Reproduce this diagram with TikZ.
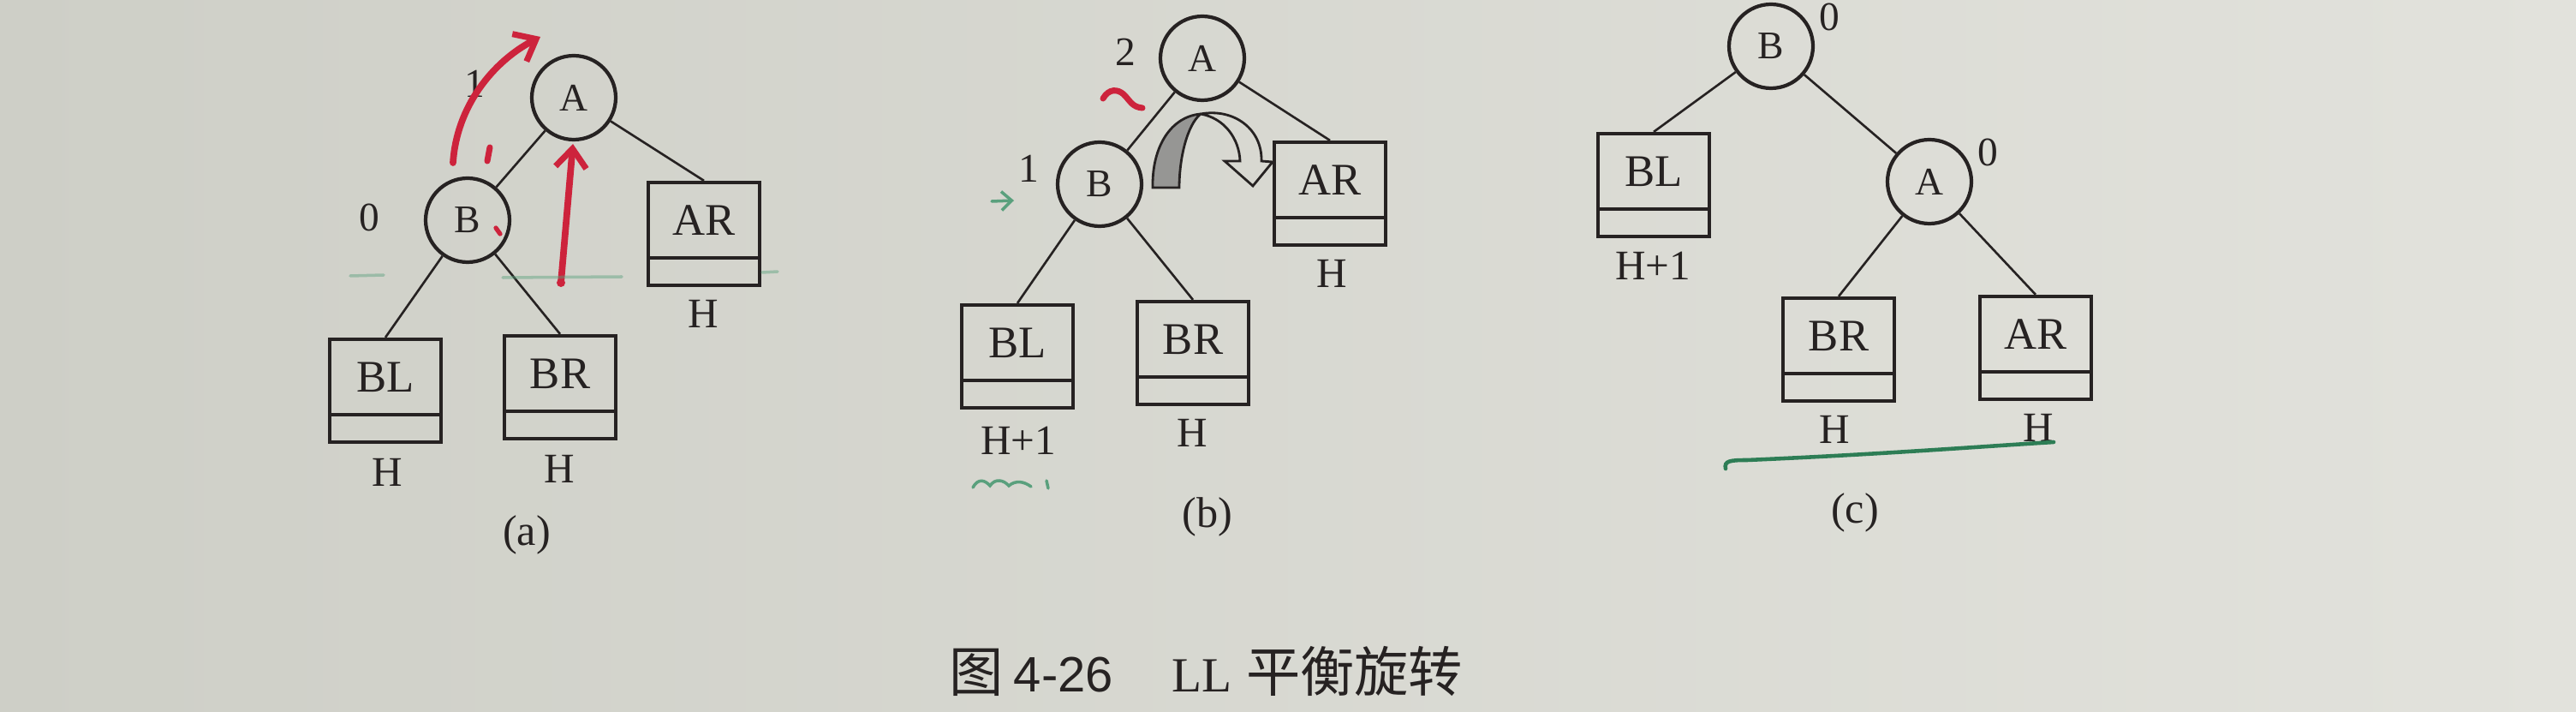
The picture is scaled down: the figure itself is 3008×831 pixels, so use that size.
\documentclass[tikz,border=0pt]{standalone}
\usepackage{fontspec}
\setmainfont{Liberation Serif}
\newfontfamily\cjkfont{Noto Sans CJK SC}
\newfontfamily\arialfont{Liberation Sans}
\usetikzlibrary{arrows.meta,calc}
\definecolor{ink}{RGB}{38,34,34}
\definecolor{paperL}{RGB}{206,207,199}
\definecolor{paperR}{RGB}{226,226,220}
\definecolor{redpen}{RGB}{205,35,60}
\definecolor{greenpen}{RGB}{45,125,85}
\definecolor{greenlight}{RGB}{90,160,125}
\definecolor{shadegray}{RGB}{150,150,148}
\begin{document}
\begin{tikzpicture}[x=0.1mm,y=-0.1mm,
  every node/.style={text=ink},
  vtx/.style={circle, draw=ink, line width=1.2pt, minimum size=9.8mm, inner sep=0pt, font=\fontsize{13pt}{15pt}\selectfont},
  subtree/.style={rectangle, draw=ink, line width=1.2pt, minimum width=13mm, minimum height=12mm, inner sep=0pt,
    text height=3.5mm, text depth=3.2mm, font=\fontsize{15pt}{18pt}\selectfont,
    path picture={\draw[ink, line width=1.2pt] ([yshift=3.2mm]path picture bounding box.south west) -- ([yshift=3.2mm]path picture bounding box.south east);}},
  hlabel/.style={inner sep=0pt, font=\fontsize{14pt}{16pt}\selectfont},
  bal/.style={inner sep=0pt, font=\fontsize{13.5pt}{16pt}\selectfont},
  panel/.style={inner sep=0pt, font=\fontsize{14.3pt}{17pt}\selectfont},
  edge/.style={draw=ink, line width=0.75pt},
  redarrow/.style={draw=redpen, line width=2.2pt, line cap=round, -{Straight Barb[length=2.2mm,width=3.6mm,line width=2pt]}},
  redmark/.style={draw=redpen, line width=2pt, line cap=round},
  greenmark/.style={draw=greenlight, line width=1pt, line cap=round},
]
% paper
\shade[left color=paperL, right color=paperR] (0,0) rectangle (3008,831);
\useasboundingbox (0,0) rectangle (3008,831);

% ---------------- (a) ----------------
\node[vtx] (aA) at (670,114) {A};
\node[vtx] (aB) at (546,257) {B};
\node[subtree] (aAR) at (822,273) {AR};
\node[subtree] (aBL) at (450,456) {BL};
\node[subtree] (aBR) at (654,452) {BR};
\draw[edge] (aA) -- (aB);
\draw[edge] (aA) -- (aAR.north);
\draw[edge] (aB) -- (aBL.north);
\draw[edge] (aB) -- (aBR.north);
\node[hlabel] (aH1) at (821,366) {H};
\node[hlabel] (aH2) at (452,551) {H};
\node[hlabel] (aH3) at (653,547) {H};
\node[bal] (aone) at (554,98) {1};
\node[bal] (azero) at (431,254) {0};
\node[panel] (acap) at (615,624) {(a)};

% handwritten marks on (a)
\coordinate (rc1) at (529,190);
\coordinate (rc2) at (631,43);
\draw[redarrow] (rc1) .. controls (533,125) and (575,72) .. (rc2);
\coordinate (rv1) at (655,330);
\coordinate (rv2) at (669,168);
\fill[redpen] (rv1) circle (5);
\draw[redarrow] (rv1) -- (rv2);
\draw[redmark] (572,172) -- (569,188);
\draw[redmark, line width=1.5pt] (579,266) -- (584,273);
\draw[greenmark, opacity=0.45] (587,324) -- (726,323);
\draw[greenmark, opacity=0.45] (890,318) -- (908,317);
\draw[greenmark, opacity=0.45] (409,322) -- (448,321);

% ---------------- (b) ----------------
\node[vtx] (bA) at (1404,68) {A};
\node[vtx] (bB) at (1284,215) {B};
\node[subtree] (bAR) at (1553,226) {AR};
\node[subtree] (bBL) at (1188,416) {BL};
\node[subtree] (bBR) at (1393,412) {BR};
\draw[edge] (bA) -- (bB);
\draw[edge] (bA) -- (bAR.north);
\draw[edge] (bB) -- (bBL.north);
\draw[edge] (bB) -- (bBR.north);
\node[hlabel] (bH1) at (1555,319) {H};
\node[hlabel] (bH2) at (1189,514) {H+1};
\node[hlabel] (bH3) at (1392,505) {H};
\node[bal] (btwo) at (1314,61) {2};
\node[bal] (bone) at (1201,197) {1};
\node[panel] (bcap) at (1410,603) {(b)};

% rotation arrow
\fill[shadegray] (1346,219) .. controls (1345,170) and (1368,136) .. (1402,133)
   .. controls (1386,146) and (1377,185) .. (1377,219) -- cycle;
\draw[ink, line width=0.8pt, line join=miter]
   (1346,219) .. controls (1345,170) and (1368,136) .. (1402,133)
   .. controls (1440,126) and (1474,150) .. (1473,188)
   -- (1486,189) -- (1463,217) -- (1430,188) -- (1448,188)
   .. controls (1447,162) and (1430,138) .. (1402,133)
   .. controls (1386,146) and (1377,185) .. (1377,219) -- cycle;

% handwritten marks on (b)
\draw[redmark] (1288,115) .. controls (1295,103) and (1305,104) .. (1312,110)
   .. controls (1320,118) and (1322,125) .. (1334,126);
\coordinate (ga1) at (1158,235);
\coordinate (ga2) at (1184,234);
\draw[greenmark, -{Straight Barb[length=1.2mm,width=2.2mm]}] (ga1) -- (ga2);
\draw[greenmark] (1136,569) .. controls (1142,558) and (1150,560) .. (1156,567)
   .. controls (1162,558) and (1172,560) .. (1178,567)
   .. controls (1186,560) and (1196,562) .. (1204,568);
\draw[greenmark] (1222,561) -- (1224,570);

% ---------------- (c) ----------------
\node[vtx] (cB) at (2068,54) {B};
\node[vtx] (cA) at (2253,212) {A};
\node[subtree] (cBL) at (1931,216) {BL};
\node[subtree] (cBR) at (2147,408) {BR};
\node[subtree] (cAR) at (2377,406) {AR};
\draw[edge] (cB) -- (cBL.north);
\draw[edge] (cB) -- (cA);
\draw[edge] (cA) -- (cBR.north);
\draw[edge] (cA) -- (cAR.north);
\node[hlabel] (cH1) at (1930,310) {H+1};
\node[hlabel] (cH2) at (2142,501) {H};
\node[hlabel] (cH3) at (2380,499) {H};
\node[bal] (czero1) at (2136,20) {0};
\node[bal] (czero2) at (2321,178) {0};
\node[panel] (ccap) at (2166,598) {(c)};
\draw[draw=greenpen, line width=1.3pt, line cap=round]
   (2015,547) .. controls (2013,538) and (2020,537) .. (2040,537)
   .. controls (2200,530) and (2300,522) .. (2398,516);

% caption
\node[anchor=west, inner sep=0pt] (caption) at (1108,783)
  {\cjkfont\fontsize{18pt}{20pt}\selectfont 图\hspace{1.2mm}{\arialfont\fontsize{16.5pt}{20pt}\selectfont 4-26}\hspace{6.8mm}{\rmfamily\fontsize{16.3pt}{20pt}\selectfont LL}\hspace{1.7mm}平衡旋转};
\end{tikzpicture}
\end{document}
